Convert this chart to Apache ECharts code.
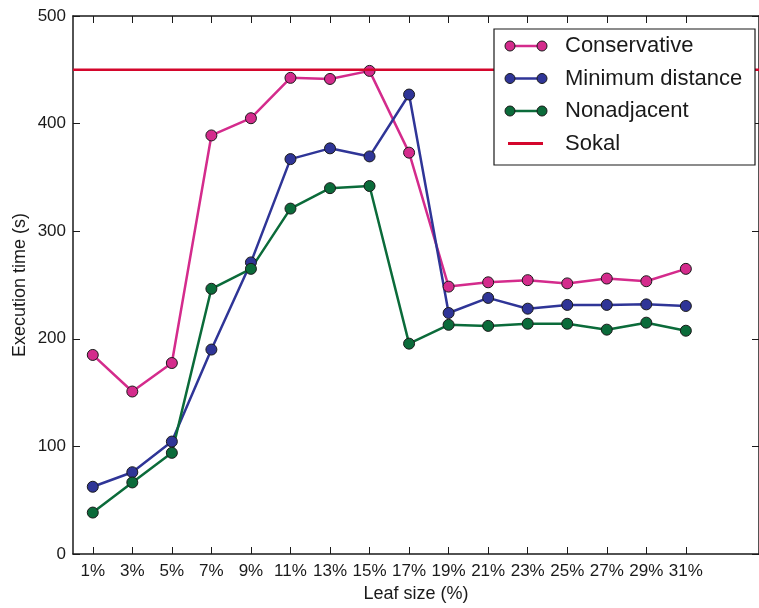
<!DOCTYPE html>
<html>
<head>
<meta charset="utf-8">
<script src="https://cdn.jsdelivr.net/npm/echarts@6/dist/echarts.min.js"></script>
<style>
  html, body { margin: 0; padding: 0; background: #fff; }
  #chart { width: 759px; height: 608px; }
</style>
</head>
<body>
<div id="chart"></div>
<script>
// Leaf size (%) on the x axis
const leafSizes = [1, 3, 5, 7, 9, 11, 13, 15, 17, 19, 21, 23, 25, 27, 29, 31];

// Execution time (s) per strategy
const conservative    = [185, 151, 177.5, 389, 405, 442.5, 441.5, 449, 373, 248.5, 252.5, 254.5, 251.5, 256, 253.5, 265];
const minimumDistance = [62.5, 76, 104.5, 190, 271, 367, 377, 369.5, 427, 224, 238, 228, 231.5, 231.5, 232, 230.5];
const nonadjacent     = [38.5, 66.5, 94, 246.5, 265, 321, 340, 342, 195.5, 213, 212, 214, 214, 208.5, 215, 207.5];
const sokalTime = 450;

const seriesNames = ['Conservative', 'Minimum distance', 'Nonadjacent', 'Sokal'];
const seriesColors = ['#d42b8c', '#2f3597', '#0b6b3a', '#d4062c'];

const yTicks = [0, 100, 200, 300, 400, 500];
const xMin = 0, xMax = 34.7;

const FONT = '"Liberation Sans", Arial, Helvetica, sans-serif';
const INK = '#1a1a1a';

const chart = echarts.init(document.getElementById('chart'), null, { renderer: 'canvas' });

const pairs = vals => leafSizes.map((x, i) => [x, vals[i]]);

function pointSeries(name, color, vals) {
  return {
    name, type: 'line', data: pairs(vals),
    symbol: 'circle', symbolSize: 11, showSymbol: true,
    lineStyle: { color, width: 2.5 },
    itemStyle: { color, borderColor: INK, borderWidth: 1 },
    emphasis: { disabled: true },
    z: 3
  };
}

const tickStyle = { show: true, inside: true, length: 7, lineStyle: { color: INK, width: 1 } };
const lineStyle = { show: true, onZero: false, lineStyle: { color: INK, width: 1.5 } };

// Legend entries built as graphics: line with two markers (or plain line) + label
const legendBox = { x: 494, y: 29, w: 261, h: 136 };
const legendRows = [46, 78.5, 111, 143.5];
const legendGraphics = [{
  type: 'rect', shape: { x: legendBox.x, y: legendBox.y, width: legendBox.w, height: legendBox.h },
  style: { fill: '#fff', stroke: INK, lineWidth: 1.2 }, z: 100
}];
seriesNames.forEach((name, i) => {
  const y = legendRows[i];
  const c = seriesColors[i];
  if (i < 3) {
    legendGraphics.push({ type: 'line', shape: { x1: 510, y1: y, x2: 542, y2: y }, style: { stroke: c, lineWidth: 2.5 }, z: 101 });
    [510, 542].forEach(cx => legendGraphics.push({
      type: 'circle', shape: { cx, cy: y, r: 5 }, style: { fill: c, stroke: INK, lineWidth: 1 }, z: 102
    }));
  } else {
    legendGraphics.push({ type: 'line', shape: { x1: 508, y1: y, x2: 543, y2: y }, style: { stroke: c, lineWidth: 3 }, z: 101 });
  }
  legendGraphics.push({
    type: 'text', x: 565, y,
    style: { text: name, fill: INK, font: '22px ' + FONT, verticalAlign: 'middle', align: 'left' },
    z: 102
  });
});

const option = {
  animation: false,
  backgroundColor: '#fff',
  textStyle: { fontFamily: FONT },
  grid: { left: 73, top: 16, right: -8, bottom: 54, containLabel: false },
  xAxis: [{
    type: 'value', min: xMin, max: xMax, position: 'bottom',
    axisLine: lineStyle,
    axisTick: Object.assign({}, tickStyle, { customValues: leafSizes }),
    axisLabel: { customValues: leafSizes, formatter: v => v + '%', fontSize: 17, color: INK, margin: 9, fontFamily: FONT },
    splitLine: { show: false },
    name: 'Leaf size (%)', nameLocation: 'middle', nameGap: 28,
    nameTextStyle: { fontSize: 18, color: INK, fontFamily: FONT }
  }, {
    type: 'value', min: xMin, max: xMax, position: 'top',
    axisLine: lineStyle,
    axisTick: Object.assign({}, tickStyle, { customValues: leafSizes }),
    axisLabel: { show: false, customValues: leafSizes },
    splitLine: { show: false }
  }],
  yAxis: [{
    type: 'value', min: yTicks[0], max: yTicks[yTicks.length - 1], interval: 100, position: 'left',
    axisLine: lineStyle,
    axisTick: tickStyle,
    axisLabel: { fontSize: 17, color: INK, margin: 7, fontFamily: FONT },
    splitLine: { show: false },
    name: 'Execution time (s)', nameLocation: 'middle', nameGap: 44, nameMoveOverlap: false,
    nameTextStyle: { fontSize: 18, color: INK, fontFamily: FONT }
  }, {
    type: 'value', min: yTicks[0], max: yTicks[yTicks.length - 1], interval: 100, position: 'right',
    axisLine: lineStyle,
    axisTick: tickStyle,
    axisLabel: { show: false },
    splitLine: { show: false }
  }],
  series: [
    pointSeries(seriesNames[0], seriesColors[0], conservative),
    pointSeries(seriesNames[1], seriesColors[1], minimumDistance),
    pointSeries(seriesNames[2], seriesColors[2], nonadjacent),
    {
      name: seriesNames[3], type: 'line', data: [[xMin, sokalTime], [xMax, sokalTime]],
      symbol: 'none', lineStyle: { color: seriesColors[3], width: 2.5 },
      emphasis: { disabled: true }, z: 4
    }
  ],
  graphic: legendGraphics
};

chart.setOption(option);
</script>
</body>
</html>
